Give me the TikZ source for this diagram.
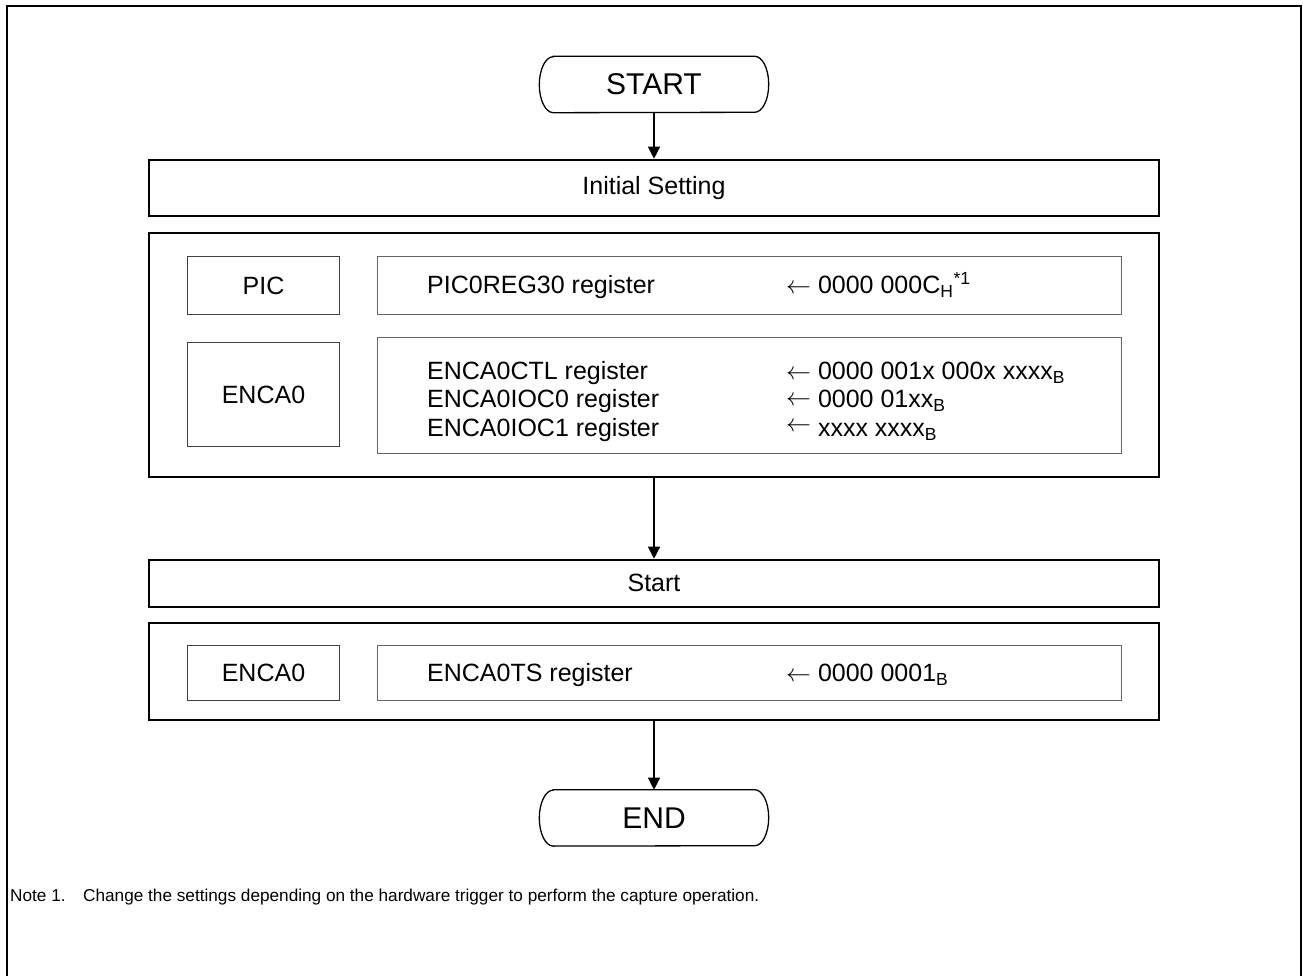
\documentclass[tikz,border=0pt]{standalone}
\usepackage{fontspec}
\setmainfont{Liberation Sans}
\usetikzlibrary{arrows.meta,positioning}

\begin{document}
\begin{tikzpicture}[
    x=1pt, y=1pt,
    node distance=48pt,
    term/.style={font=\fontsize{30}{36}\selectfont, minimum width=229pt, minimum height=56pt, inner sep=0pt},
    stage/.style={rectangle, draw, line width=2pt, font=\fontsize{25}{30}\selectfont,
                  minimum width=1010pt, inner sep=0pt},
    unit/.style={rectangle, draw=black!75, line width=1pt, font=\fontsize{25}{30}\selectfont,
                 minimum width=152pt, inner sep=0pt, anchor=north west},
    regbox/.style={rectangle, draw=black!60, line width=1pt, minimum width=744pt, inner sep=0pt, anchor=north west},
    txt/.style={font=\fontsize{25}{30}\selectfont, inner sep=0pt, anchor=base west},
    notetxt/.style={font=\fontsize{17.2}{21}\selectfont, inner sep=0pt, anchor=base west},
    termline/.style={line width=1.3pt},
    arr/.style={-{Triangle[length=12pt,width=12pt]}, line width=1.3pt}
  ]
  \useasboundingbox (0,0) rectangle (1303,975);
  % outer frame
  \draw[line width=2.3pt] (7,-10) -- (7,969) -- (1301,969) -- (1301,-10);

  % main column
  \node[term] (start) at (654,890.5) {START};
  \node[stage, minimum height=56pt, below=46pt of start] (init) {Initial Setting};
  \node[stage, minimum height=244pt, below=15pt of init] (grp1) {};
  \node[stage, minimum height=47pt, below=81pt of grp1] (go) {Start};
  \node[stage, minimum height=97pt, below=14pt of go] (grp2) {};
  \node[term, below=69pt of grp2] (finish) {END};

  \foreach \t in {start,finish}
    \draw[termline] ([xshift=14pt]\t.north west) -- ([xshift=-14pt]\t.north east)
      arc[start angle=90, end angle=-90, x radius=14pt, y radius=28pt]
      -- ([xshift=14pt]\t.south west)
      arc[start angle=270, end angle=90, x radius=14pt, y radius=28pt] -- cycle;

  % initial setting
  \node[unit, minimum height=58pt] (pic) at (187,719) {PIC};
  \node[regbox, minimum height=58pt] (picreg) at (377,719) {};
  \node[txt] (picname) at (427,681) {PIC0REG30 register};
  \node[txt] (picval) at (786,681) {$\leftarrow$ 0000 000C\textsubscript{H}\textsuperscript{*1}};

  \node[unit, minimum height=104pt] (enc) at (187,633) {ENCA0};
  \node[regbox, minimum height=116pt] (encreg) at (377,638) {};
  \node[txt] (ctl) at (427,595) {ENCA0CTL register};
  \node[txt] (ctlval) at (786,595) {$\leftarrow$ 0000 001x 000x xxxx\textsubscript{B}};
  \node[txt] (ioc0) at (427,567) {ENCA0IOC0 register};
  \node[txt] (ioc0val) at (786,567) {\raisebox{2pt}{$\leftarrow$} 0000 01xx\textsubscript{B}};
  \node[txt] (ioc1) at (427,538) {ENCA0IOC1 register};
  \node[txt] (ioc1val) at (786,538) {\raisebox{5pt}{$\leftarrow$} xxxx xxxx\textsubscript{B}};

  % start
  \node[unit, minimum height=55pt] (enc2) at (187,330) {ENCA0};
  \node[regbox, minimum height=55pt] (tsreg) at (377,330) {};
  \node[txt] (tsname) at (427,293) {ENCA0TS register};
  \node[txt] (tsval) at (786,293) {$\leftarrow$ 0000 0001\textsubscript{B}};

  \draw[arr] (start) -- (init);
  \draw[arr] (grp1) -- (go);
  \draw[arr] (grp2) -- (finish);

  % note
  \node[notetxt] (notenum) at (10,73.5) {Note 1.};
  \node[notetxt] (notebody) at (83,73.5) {Change the settings depending on the hardware trigger to perform the capture operation.};
\end{tikzpicture}
\end{document}
